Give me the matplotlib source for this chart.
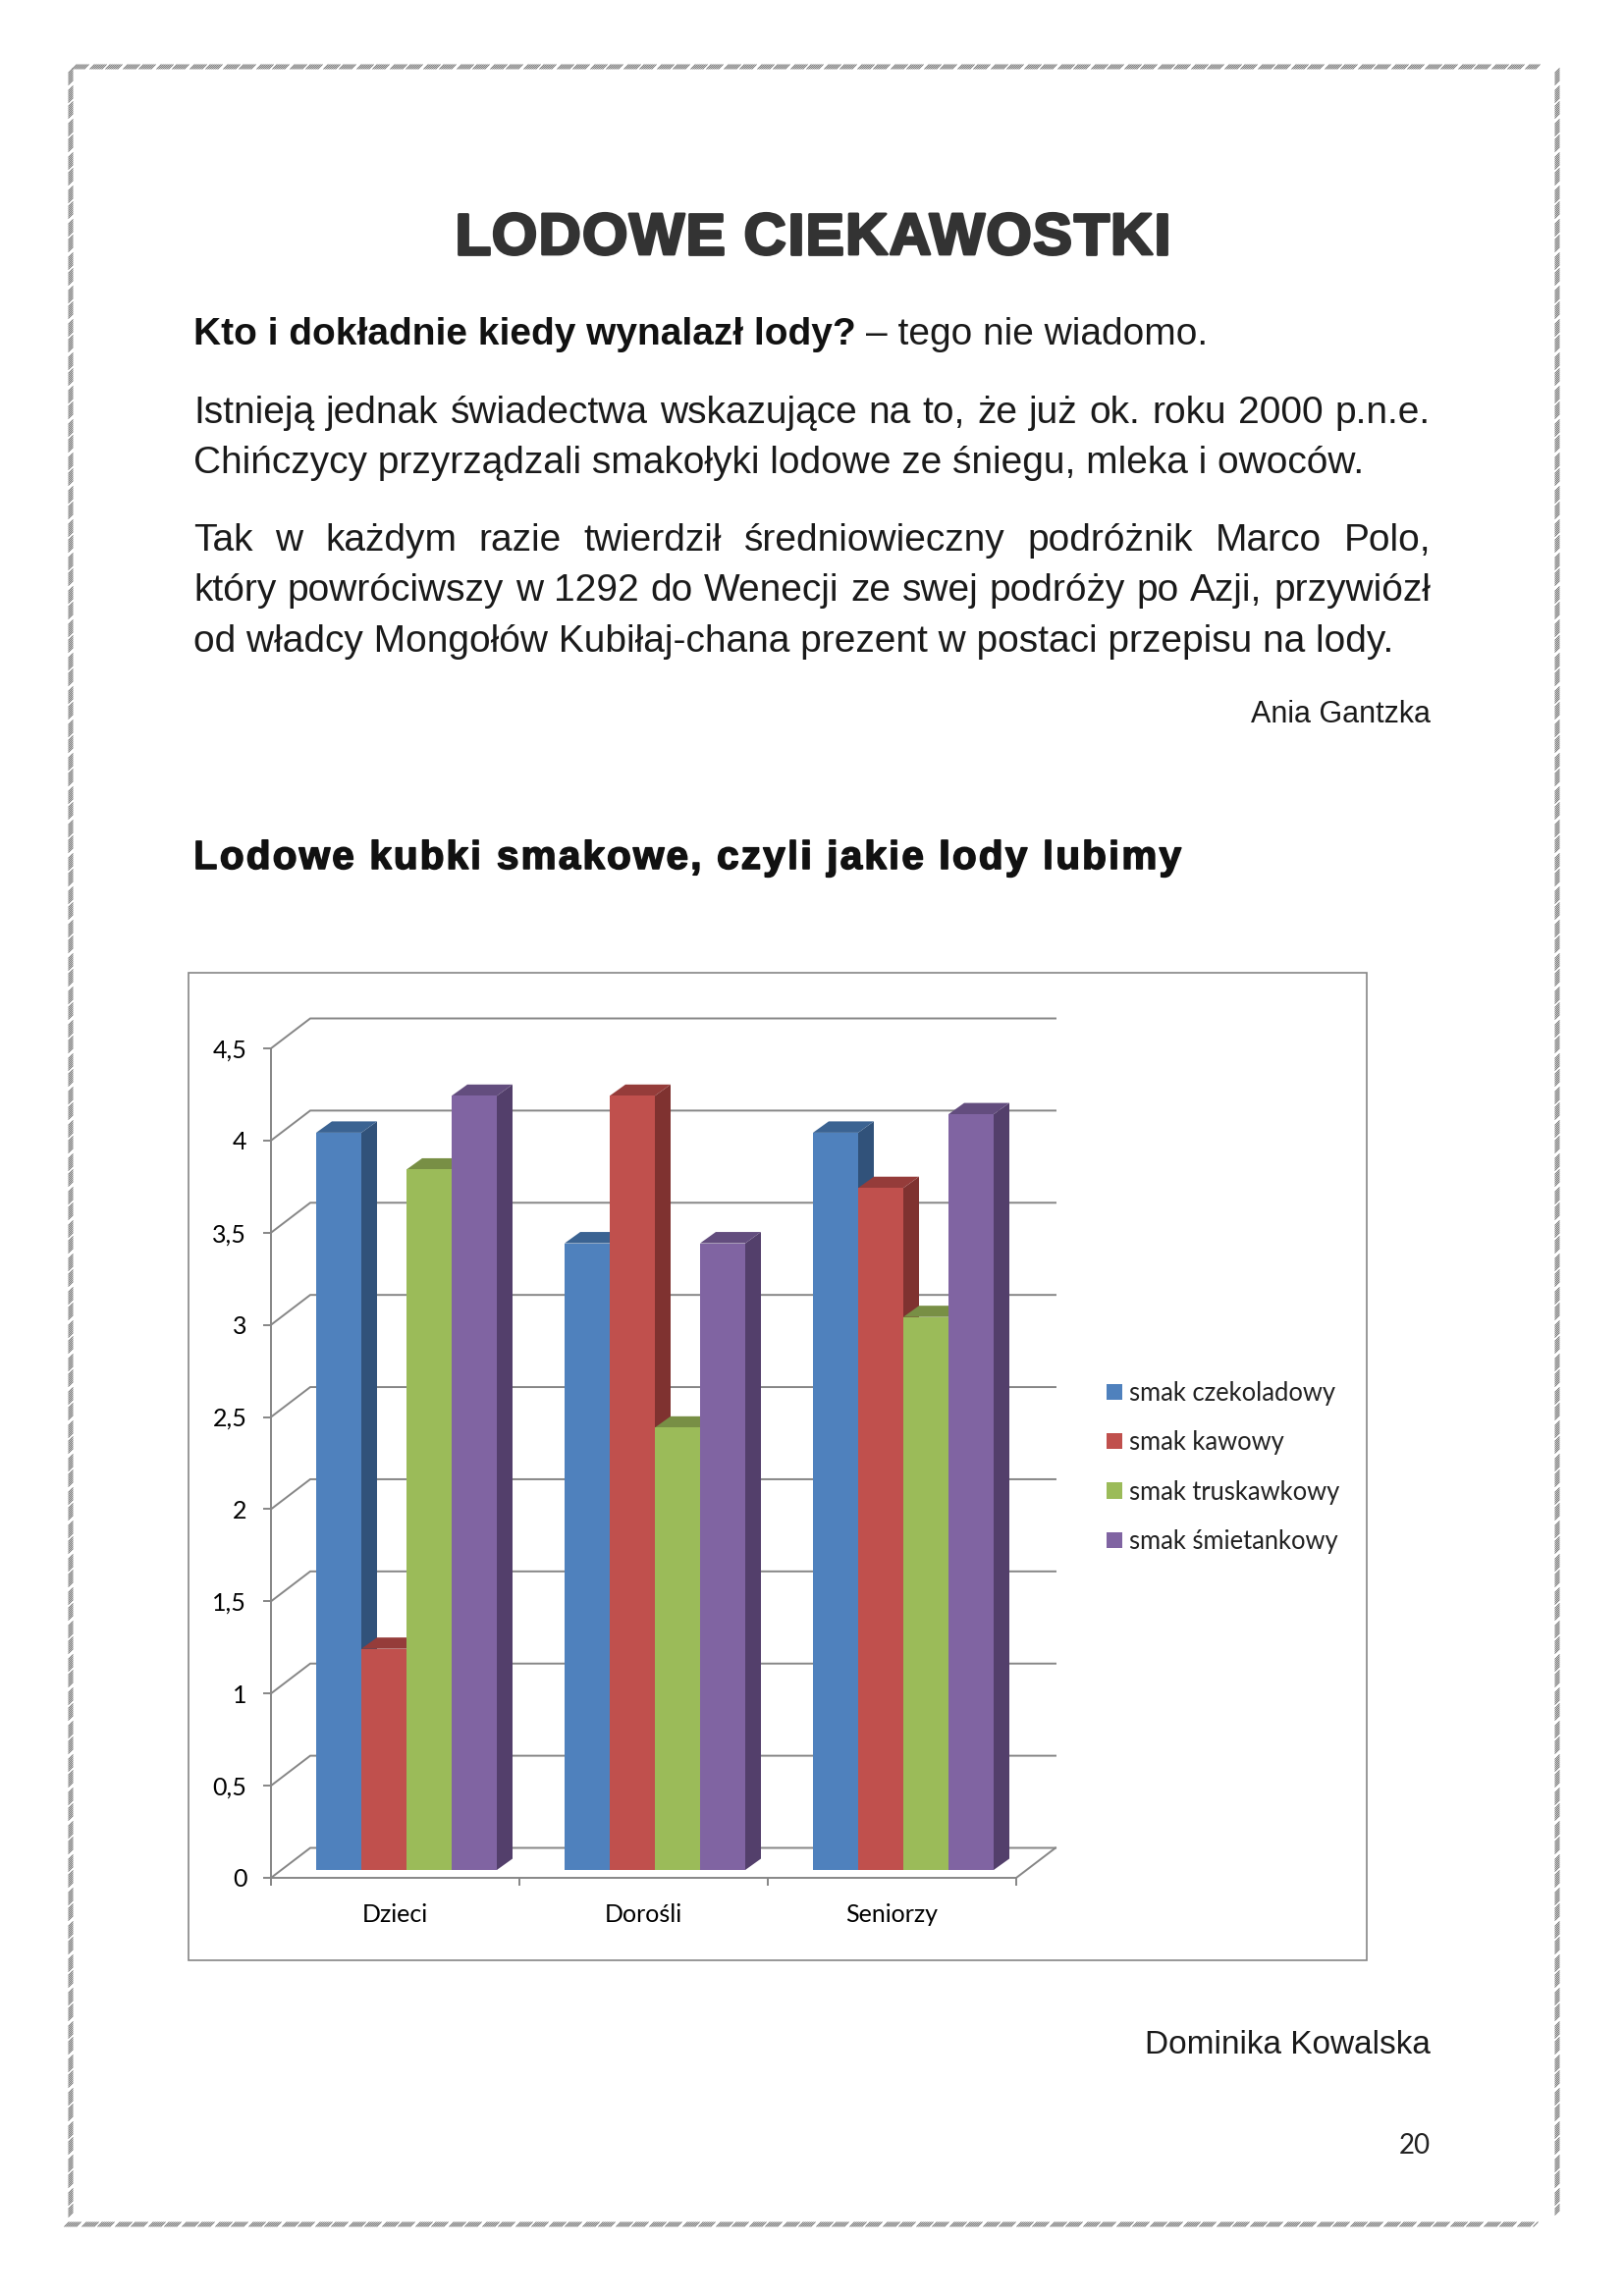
import matplotlib
matplotlib.use('Agg')
import matplotlib.pyplot as plt
from matplotlib.collections import LineCollection
from matplotlib.patches import Patch, Polygon, Rectangle
import matplotlib.patheffects as pe

W, H = 1654, 2339
DPI = 200

groups = ['Dzieci', 'Dorośli', 'Seniorzy']
series = ['smak czekoladowy', 'smak kawowy', 'smak truskawkowy', 'smak śmietankowy']
czekoladowy = [4.0, 3.4, 4.0]
kawowy = [1.2, 4.2, 3.7]
truskawkowy = [3.8, 2.4, 3.0]
smietankowy = [4.2, 3.4, 4.1]
y_ticks = [0, 0.5, 1, 1.5, 2, 2.5, 3, 3.5, 4, 4.5]
y_labels = ['0', '0,5', '1', '1,5', '2', '2,5', '3', '3,5', '4', '4,5']

front_cols = ['#4F81BD', '#C0504D', '#9BBB59', '#8064A2']
top_cols = ['#3B6392', '#953C3A', '#788F45', '#634D7E']
side_cols = ['#31527A', '#7F3230', '#657A39', '#533F6B']
GREY = '#868686'

title = 'LODOWE CIEKAWOSTKI'
heading = 'Lodowe kubki smakowe, czyli jakie lody lubimy'
para1 = ['Istnieją jednak świadectwa wskazujące na to, że już ok. roku 2000 p.n.e.',
         'Chińczycy przyrządzali smakołyki lodowe ze śniegu, mleka i owoców.']
para2 = ['Tak w każdym razie twierdził średniowieczny podróżnik Marco Polo,',
         'który powróciwszy w 1292 do Wenecji ze swej podróży po Azji, przywiózł',
         'od władcy Mongołów Kubiłaj-chana prezent w postaci przepisu na lody.']

plt.rcParams['font.family'] = ['Liberation Sans', 'DejaVu Sans']

fig = plt.figure(figsize=(W / DPI, H / DPI), dpi=DPI)
page = fig.add_axes([0, 0, 1, 1])
page.set_xlim(0, W)
page.set_ylim(H, 0)
page.axis('off')
LEFT, RIGHT = 197, 1457
BODY = 14.03
TXT = '#1a1a1a'


def text_w(s, **kw):
    t = page.text(0, 0, s, **kw)
    w = t.get_window_extent(fig.canvas.get_renderer()).width
    t.remove()
    return w


def justified(line, y, size=BODY):
    # word by word, Word style justified line
    words = line.split(' ')
    widths = [text_w(w, fontsize=size) for w in words]
    gap = (RIGHT - LEFT - sum(widths)) / (len(words) - 1)
    x = LEFT
    for w, ww in zip(words, widths):
        page.text(x, y, w, fontsize=size, va='baseline', color=TXT)
        x += ww + gap


def spaced(line, x0, x1, y, size, color, stroke):
    # the original font is wider than anything installed, so open up the letters
    kw = dict(fontsize=size, fontweight='bold')
    extra = (x1 - x0 - text_w(line, **kw)) / (len(line) - 1)
    for i, ch in enumerate(line):
        if ch == ' ':
            continue
        x = x0 + (text_w(line[:i + 1], **kw) - text_w(ch, **kw)) + i * extra
        page.text(x, y, ch, va='baseline', color=color,
                  path_effects=[pe.withStroke(linewidth=stroke, foreground=color)], **kw)


def dashes(x0, y0, x1, y1):
    # border made of short slanted strokes with gaps
    horiz = abs(x1 - x0) > abs(y1 - y0)
    n = int(abs(x1 - x0) + abs(y1 - y0))
    segs = []
    for p in range(0, n, 2):
        if p % 17 > 13:
            continue
        if horiz:
            segs.append([(x0 + p - 2.5, y0 + 2.5), (x0 + p + 2.5, y0 - 2.5)])
        else:
            segs.append([(x0 - 2.5, y0 + p + 2.5), (x0 + 2.5, y0 + p - 2.5)])
    page.add_collection(LineCollection(segs, colors='#666666', linewidths=0.32))


dashes(76, 68, 1568, 68)
dashes(72, 72, 72, 2258)
dashes(1586, 72, 1586, 2256)
dashes(68, 2266, 1566, 2266)

spaced(title, 463, 1192, 259, 21.5, '#333333', 1.0)

s1 = 'Kto i dokładnie kiedy wynalazł lody?'
page.text(LEFT, 351, s1, fontsize=BODY, fontweight='bold', va='baseline', color='#111111')
page.text(LEFT + text_w(s1 + ' ', fontsize=BODY, fontweight='bold'), 351, '– tego nie wiadomo.',
          fontsize=BODY, va='baseline', color=TXT)

justified(para1[0], 431)
page.text(LEFT, 482, para1[1], fontsize=BODY, va='baseline', color=TXT)
justified(para2[0], 561)
justified(para2[1], 612)
page.text(LEFT, 664, para2[2], fontsize=BODY, va='baseline', color=TXT)
page.text(RIGHT, 736, 'Ania Gantzka', fontsize=11, ha='right', va='baseline', color=TXT)
spaced(heading, LEFT, 1203, 885, 14.5, '#111111', 0.6)
page.text(RIGHT, 2092, 'Dominika Kowalska', fontsize=12, ha='right', va='baseline', color=TXT)
page.text(1441, 2194, '20', fontsize=10, ha='center', va='baseline', family='Lato', color='#222222')

page.add_patch(Rectangle((192, 991), 1200, 1006, fc='white', ec=GREY, lw=0.6))

# chart axes, x 0..3 are the three groups, y are values
x0_px, x1_px = 276, 1035
y0_px, y1_px = 1913, 1068
ax = fig.add_axes([x0_px / W, 1 - y0_px / H, (x1_px - x0_px) / W, (y0_px - y1_px) / H])
ax.patch.set_alpha(0)
ax.set_xlim(0, 3)
ax.set_ylim(0, 4.5)
px_x = 3 / (x1_px - x0_px)
px_y = 4.5 / (y0_px - y1_px)

for s in ['top', 'right']:
    ax.spines[s].set_visible(False)
for s in ['left', 'bottom']:
    ax.spines[s].set_color(GREY)
    ax.spines[s].set_linewidth(0.7)

ax.set_yticks(y_ticks)
ax.set_yticklabels(y_labels, family='Lato', fontsize=9)
ax.set_xticks([0, 1, 2, 3])
ax.set_xticklabels([])
ax.set_xticks([0.5, 1.5, 2.5], minor=True)
ax.set_xticklabels(groups, minor=True, family='Lato', fontsize=9)
ax.tick_params(axis='both', which='major', color=GREY, width=0.7, length=2.9)
ax.tick_params(axis='y', pad=6)
ax.tick_params(axis='x', which='minor', length=0, pad=9.5)

# walls and gridlines behind the bars
wall_x = 40 * px_x
wall_y = 30.5 * px_y
for v in y_ticks:
    ax.plot([0, wall_x, 3 + wall_x], [v, v + wall_y, v + wall_y], color=GREY, lw=0.7,
            clip_on=False, zorder=1, solid_joinstyle='miter')
ax.plot([3, 3 + wall_x], [0, wall_y], color=GREY, lw=0.7, clip_on=False, zorder=1)

# bars with their 3d faces, drawn left to right so each one covers the last
values = [czekoladowy, kawowy, truskawkowy, smietankowy]
bar_w = 46 * px_x
shift_x = 46 * px_x  # first bar starts this far from the group edge
base = 8 * px_y
dx = 16 * px_x
dy = 11.5 * px_y
z = 3
for g in range(len(groups)):
    for k in range(len(series)):
        v = values[k][g]
        top = v + base
        x = g + shift_x + k * bar_w
        ax.add_patch(Polygon([(x + bar_w, base), (x + bar_w + dx, base + dy), (x + bar_w + dx, top + dy),
                              (x + bar_w, top)], fc=side_cols[k], ec='none', zorder=z, clip_on=False))
        ax.add_patch(Polygon([(x, top), (x + dx, top + dy), (x + bar_w + dx, top + dy), (x + bar_w, top)],
                             fc=top_cols[k], ec='none', zorder=z, clip_on=False))
        ax.bar(x, v, bar_w, bottom=base, align='edge', color=front_cols[k], zorder=z, clip_on=False)
        z += 1

handles = [Patch(fc=c, ec='none', label=s) for c, s in zip(front_cols, series)]
fig.legend(handles=handles, loc='upper left', bbox_to_anchor=(1104 / W, 1 - 1384 / H), frameon=False,
           prop={'family': 'Lato', 'size': 9.2}, handlelength=0.62, handleheight=0.6, handletextpad=0.27,
           labelspacing=0.99, labelcolor='#222222')

fig.savefig('out.png', dpi=DPI)
